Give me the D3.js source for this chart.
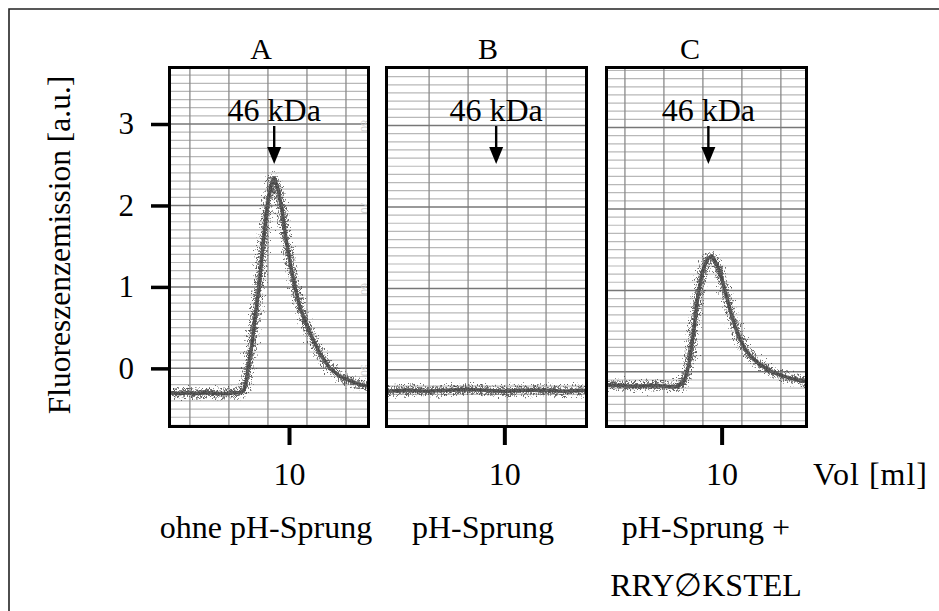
<!DOCTYPE html>
<html><head><meta charset="utf-8">
<script src="https://cdn.jsdelivr.net/npm/d3@7"></script>
<style>
html,body{margin:0;padding:0;background:#fff;}
svg{display:block;}
text{font-family:"Liberation Serif","Times New Roman",serif;fill:#000;}
</style></head><body>
<svg id="chart" width="939" height="611"></svg>
<script>
// ---------------- data ----------------
const panelNames = ["A", "B", "C"];
const bottomLabels = [["ohne pH-Sprung"], ["pH-Sprung"], ["pH-Sprung +", "RRY\u2205KSTEL"]];
const yTicks = [0, 1, 2, 3];
const xTicks = [10];
const yTitle = "Fluoreszenzemission [a.u.]";
const xTitle = "Vol [ml]";
const markerLabel = "46 kDa";
const markerVol = [9.62, 9.79, 9.66];

const volA = [6.95, 7.2, 7.4, 7.65, 7.9, 8.15, 8.4, 8.6, 8.75, 8.85, 8.91, 8.95, 9.05, 9.15, 9.23, 9.33, 9.44, 9.54, 9.62, 9.72, 9.82, 9.92, 10.03, 10.15, 10.28, 10.44, 10.62, 10.79, 11.05, 11.31, 11.56, 11.82, 12.05];
const sigA = [-0.30, -0.31, -0.30, -0.31, -0.30, -0.31, -0.31, -0.30, -0.30, -0.26, -0.15, 0.0, 0.3, 0.7, 1.0, 1.5, 2.0, 2.25, 2.34, 2.2, 1.95, 1.6, 1.29, 1.0, 0.75, 0.55, 0.35, 0.18, 0.0, -0.1, -0.15, -0.2, -0.22];

const volB = [6.99, 7.5, 8.0, 8.5, 9.0, 9.5, 10.0, 10.5, 11.0, 11.5, 12.12];
const sigB = [-0.28, -0.27, -0.28, -0.27, -0.26, -0.27, -0.28, -0.27, -0.27, -0.28, -0.27];

const volC = [7.06, 7.65, 8.29, 8.8, 9.01, 9.08, 9.16, 9.24, 9.32, 9.39, 9.47, 9.55, 9.65, 9.75, 9.85, 9.96, 10.06, 10.14, 10.24, 10.34, 10.47, 10.62, 10.8, 10.98, 11.24, 11.49, 11.75, 12.01, 12.19];
const sigC = [-0.20, -0.22, -0.21, -0.23, -0.18, -0.1, 0.05, 0.3, 0.6, 0.88, 1.1, 1.25, 1.35, 1.38, 1.3, 1.18, 1.0, 0.86, 0.68, 0.52, 0.36, 0.22, 0.12, 0.05, -0.03, -0.08, -0.12, -0.15, -0.16];

const volumes = [volA, volB, volC];
const signals = [sigA, sigB, sigC];
const xDomains = [[6.95, 12.05], [6.99, 12.12], [7.06, 12.19]];
const paperVLines = [[7.46, 8.46, 9.46, 10.46, 11.46], [8.07, 9.07, 10.07, 11.07], [7.52, 8.52, 9.52, 10.52, 11.52]];
const paperNumbers = ["80", "70", "60", "50"];

// ---------------- layout ----------------
const W = 939, H = 611;
const FONT = '"Liberation Serif","Times New Roman",serif';
const plotTop = 67, plotBottom = 427;
const panelLeft = [170, 387, 607];
const panelWidth = [199, 200, 200];
const titleX = [261, 488, 690];
const labelX = [266, 483, 706];
const paperShift = [0, 1.5, 3.5];

const svg = d3.select("#chart");
svg.append("rect").attr("width", W).attr("height", H).attr("fill", "#fff");

const defs = svg.append("defs");
// noise-look filters for the recorder trace (rendering style only)
function jitterFilter(id, seed, scale, freq) {
  const f = defs.append("filter").attr("id", id)
    .attr("filterUnits", "userSpaceOnUse")
    .attr("x", 0).attr("y", 0).attr("width", W).attr("height", H);
  f.append("feTurbulence").attr("type", "fractalNoise")
    .attr("baseFrequency", freq).attr("numOctaves", 2).attr("seed", seed).attr("result", "n");
  f.append("feDisplacementMap").attr("in", "SourceGraphic").attr("in2", "n")
    .attr("scale", scale).attr("xChannelSelector", "R").attr("yChannelSelector", "G");
}
const jitterSpecs = [[3, 22, "0.9 0.3"], [8, 26, "0.7 0.4"], [17, 20, "1.1 0.3"], [29, 24, "0.8 0.5"]];
jitterSpecs.forEach((s, k) => jitterFilter("rough" + k, s[0], s[1], s[2]));
const soft = defs.append("filter").attr("id", "soft");
soft.append("feGaussianBlur").attr("stdDeviation", 0.5);

// outer frame (only top & left visible)
svg.append("path").attr("d", `M9,${H + 5} V9 H${W + 5}`)
  .attr("fill", "none").attr("stroke", "#222").attr("stroke-width", 1.6);

const y = d3.scaleLinear().domain([-0.72, 3.70]).range([plotBottom, plotTop]);

// y axis
const yAxis = svg.append("g").attr("transform", `translate(${panelLeft[0]},0)`)
  .call(d3.axisLeft(y).tickValues(yTicks).tickSize(19).tickPadding(17).tickFormat(d3.format("d")));
yAxis.select(".domain").remove();
yAxis.selectAll(".tick line").attr("stroke", "#000").attr("stroke-width", 3.5);
yAxis.selectAll(".tick text").attr("font-family", FONT).attr("font-size", 31).attr("fill", "#000");

// y title
svg.append("text")
  .attr("transform", `translate(70,245) rotate(-90)`)
  .attr("text-anchor", "middle")
  .attr("font-size", 31.5)
  .text(yTitle);

const line = d3.line().curve(d3.curveLinear);

panelNames.forEach((name, i) => {
  const x0 = panelLeft[i], w = panelWidth[i];
  const x = d3.scaleLinear().domain(xDomains[i]).range([x0, x0 + w]);
  const g = svg.append("g");
  const clipId = "clip" + i;
  defs.append("clipPath").attr("id", clipId)
    .append("rect").attr("x", x0).attr("y", plotTop).attr("width", w).attr("height", plotBottom - plotTop);

  const paper = g.append("g").attr("clip-path", `url(#${clipId})`);
  paper.append("rect").attr("x", x0).attr("y", plotTop).attr("width", w).attr("height", plotBottom - plotTop).attr("fill", "#fff");

  const gridG = paper.append("g").attr("filter", "url(#soft)");
  const minor = d3.range(-8, 38).map(k => k / 10).filter(v => Math.abs(v - Math.round(v)) > 1e-6);
  gridG.selectAll(".mh").data(minor).join("line")
    .attr("x1", x0).attr("x2", x0 + w)
    .attr("y1", d => y(d) + paperShift[i]).attr("y2", d => y(d) + paperShift[i])
    .attr("stroke", "#b8b8b8").attr("stroke-width", 1.2);
  gridG.selectAll(".vl").data(paperVLines[i]).join("line")
    .attr("x1", d => x(d)).attr("x2", d => x(d))
    .attr("y1", plotTop).attr("y2", plotBottom)
    .attr("stroke", "#8a8a8a").attr("stroke-width", 1.3);
  gridG.selectAll(".MH").data(d3.range(0, 4)).join("line")
    .attr("x1", x0).attr("x2", x0 + w)
    .attr("y1", d => y(d) + paperShift[i]).attr("y2", d => y(d) + paperShift[i])
    .attr("stroke", "#777").attr("stroke-width", 1.5);

  if (i === 0) {
    paper.selectAll(".pn").data(paperNumbers).join("text")
      .attr("transform", (d, k) => `translate(${x0 + w - 8},${y(3 - k) + 2}) rotate(90)`)
      .attr("text-anchor", "middle")
      .attr("font-size", 12)
      .style("fill", "#cfcfcf")
      .text(d => d);
  }

  const pts = volumes[i].map((v, k) => [x(v), y(signals[i][k])]);
  const d = line(pts);
  const traceG = paper.append("g");
  traceG.append("path").attr("d", d)
    .attr("fill", "none").attr("stroke", "#555").attr("stroke-width", 3.5)
    .attr("stroke-linejoin", "round");
  jitterSpecs.forEach((s, k) => {
    traceG.append("path").attr("d", d)
      .attr("fill", "none").attr("stroke", k % 2 ? "#444" : "#666").attr("stroke-width", 2)
      .attr("stroke-opacity", 0.8)
      .attr("stroke-linejoin", "round").attr("filter", `url(#rough${k})`);
  });

  const mx = x(markerVol[i]);
  g.append("line").attr("x1", mx).attr("x2", mx).attr("y1", 126).attr("y2", 149)
    .attr("stroke", "#000").attr("stroke-width", 2.4);
  g.append("path").attr("d", `M${mx - 7},147 L${mx + 7},147 L${mx},164 Z`).attr("fill", "#000");
  g.append("text").attr("x", mx).attr("y", 121).attr("text-anchor", "middle")
    .attr("font-size", 32).text(markerLabel);

  g.append("rect").attr("x", x0 - 0.5).attr("y", plotTop + 0.5).attr("width", w).attr("height", plotBottom - plotTop - 1)
    .attr("fill", "none").attr("stroke", "#000").attr("stroke-width", 3);

  svg.append("text").attr("x", titleX[i]).attr("y", 59).attr("text-anchor", "middle")
    .attr("font-size", 30).text(name);

  const xAxis = svg.append("g").attr("transform", `translate(0,${plotBottom})`)
    .call(d3.axisBottom(x).tickValues(xTicks).tickSize(18).tickPadding(17).tickFormat(d3.format("d")));
  xAxis.select(".domain").remove();
  xAxis.selectAll(".tick line").attr("stroke", "#000").attr("stroke-width", 4);
  xAxis.selectAll(".tick text").attr("font-family", FONT).attr("font-size", 32).attr("fill", "#000");

  bottomLabels[i].forEach((t, k) => {
    svg.append("text").attr("x", labelX[i]).attr("y", 538 + k * 58).attr("text-anchor", "middle")
      .attr("font-size", 32).text(t);
  });
});

svg.append("text").attr("x", 813).attr("y", 485).attr("font-size", 32)
  .attr("textLength", 114).attr("lengthAdjust", "spacing").text(xTitle);
</script>
</body></html>
